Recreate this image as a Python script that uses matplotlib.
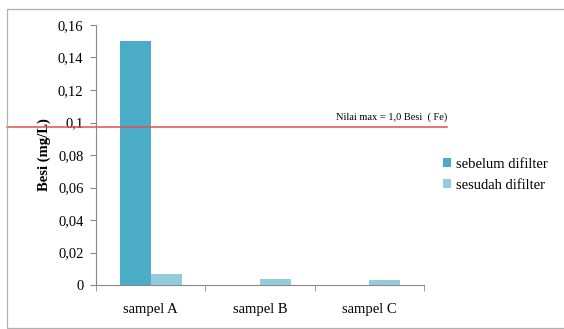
import matplotlib
matplotlib.use("Agg")
import matplotlib.pyplot as plt
import matplotlib.patches as mpatches
import numpy as np

categories = ["sampel A", "sampel B", "sampel C"]
sebelum = [0.150, 0.0, 0.0]
sesudah = [0.0065, 0.004, 0.003]
nilai_max = 0.097
yticks = [0, 0.02, 0.04, 0.06, 0.08, 0.1, 0.12, 0.14, 0.16]
ytick_labels = ["0", "0,02", "0,04", "0,06", "0,08", "0,1", "0,12", "0,14", "0,16"]

plt.rcParams['font.family'] = ['Liberation Serif', 'DejaVu Serif']

W, H = 564, 329
fig = plt.figure(figsize=(W / 100, H / 100), dpi=100)
ax = fig.add_axes([96 / W, 1 - 285 / H, 328 / W, 260 / H])

# outer chart frame
frame = mpatches.Rectangle((7 / W, 1 / H), 1.2, 319 / H, transform=fig.transFigure,
                           fill=False, edgecolor='#b0b0b0', linewidth=0.9)
fig.patches.append(frame)

x = np.arange(len(categories))
w = 0.284
ax.bar(x - w / 2, sebelum, w, color='#4aacc6', label='sebelum difilter')
ax.bar(x + w / 2, sesudah, w, color='#93cddd', label='sesudah difilter')

ax.axhline(nilai_max, xmin=(7 - 96) / 328, xmax=(447 - 96) / 328,
           color='#e2504c', linewidth=1.1, clip_on=False, zorder=3)
ax.text(1.07, nilai_max + 0.003, 'Nilai max = 1,0 Besi  ( Fe)', transform=ax.get_yaxis_transform(),
        ha='right', va='bottom', fontsize=7.5)

ax.set_xlim(-0.5, 2.5)
ax.set_ylim(0, 0.16)
ax.set_yticks(yticks)
ax.set_yticklabels(ytick_labels, fontsize=10.5)
ax.set_xticks(x)
ax.set_xticklabels(categories, fontsize=10.5)
ax.set_xticks([-0.5, 0.5, 1.5, 2.5], minor=True)
ax.tick_params(axis='x', which='major', length=0, pad=13)
ax.tick_params(axis='x', which='minor', length=4, color='#888888')
ax.tick_params(axis='y', length=4, color='#888888', pad=5)
ax.set_ylabel('Besi (mg/L)', fontsize=10.5, fontweight='bold', labelpad=5)

for s in ['top', 'right']:
    ax.spines[s].set_visible(False)
for s in ['left', 'bottom']:
    ax.spines[s].set_color('#888888')

ax.legend(loc='upper left', bbox_to_anchor=(437 / W, 1 - 152 / H), bbox_transform=fig.transFigure,
          frameon=False, fontsize=10.5, handlelength=0.55, handleheight=0.55,
          handletextpad=0.35, labelspacing=0.55, borderaxespad=0)

fig.savefig('out.png', dpi=100)
